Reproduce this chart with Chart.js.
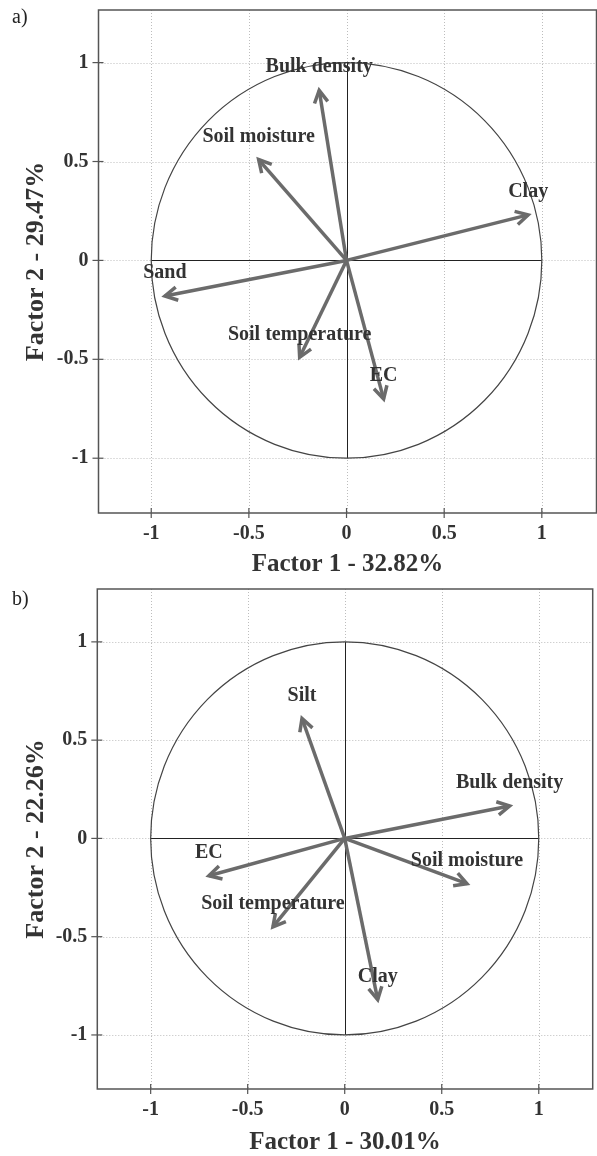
<!DOCTYPE html>
<html>
<head>
<meta charset="utf-8">
<script src="https://cdn.jsdelivr.net/npm/chart.js@4/dist/chart.umd.min.js"></script>
<style>
    html, body { margin: 0; padding: 0; background: #fff; }
    .panel { position: relative; width: 597px; height: 578px; }
</style>
</head>
<body>
<div class="panel"><canvas id="panelA"></canvas></div>
<div class="panel"><canvas id="panelB"></canvas></div>
<script>
// axis ticks shared by both panels
const tickValues = [-1, -0.5, 0, 0.5, 1];
const tickLabels = ['-1', '-0.5', '0', '0.5', '1'];

// panel a) loadings
const variablesA = ['Bulk density', 'Soil moisture', 'Clay', 'Sand', 'Soil temperature', 'EC'];
const factor1A = [-0.14, -0.45, 0.93, -0.93, -0.24, 0.19];
const factor2A = [0.86, 0.51, 0.23, -0.18, -0.49, -0.70];

// panel b) loadings
const variablesB = ['Silt', 'Bulk density', 'EC', 'Soil moisture', 'Soil temperature', 'Clay'];
const factor1B = [-0.22, 0.85, -0.70, 0.63, -0.37, 0.17];
const factor2B = [0.61, 0.165, -0.19, -0.23, -0.45, -0.82];

const SERIF = '"Liberation Serif", "Times New Roman", serif';
const INK = '#333333';
const ARROW = '#6b6b6b';

const strokeLine = (ctx, x1, y1, x2, y2) => {
    ctx.beginPath();
    ctx.moveTo(x1, y1);
    ctx.lineTo(x2, y2);
    ctx.stroke();
};

const pcaDecor = {
    id: 'pcaDecor',
    beforeDatasetsDraw(chart) {
        const { ctx, chartArea: area, scales: { x, y } } = chart;
        ctx.save();

        // dotted grid
        ctx.strokeStyle = '#bdbdbd';
        ctx.lineWidth = 1;
        ctx.setLineDash([1, 2]);
        tickValues.forEach((v) => {
            const px = Math.round(x.getPixelForValue(v)) + 0.5;
            const py = Math.round(y.getPixelForValue(v)) + 0.5;
            strokeLine(ctx, px, area.top, px, area.bottom);
            strokeLine(ctx, area.left, py, area.right, py);
        });
        ctx.setLineDash([]);

        // axes through the origin, only inside the unit circle
        const cx = x.getPixelForValue(0);
        const cy = y.getPixelForValue(0);
        ctx.strokeStyle = '#222';
        ctx.lineWidth = 1;
        strokeLine(ctx, x.getPixelForValue(-1), Math.round(cy) + 0.5, x.getPixelForValue(1), Math.round(cy) + 0.5);
        strokeLine(ctx, Math.round(cx) + 0.5, y.getPixelForValue(1), Math.round(cx) + 0.5, y.getPixelForValue(-1));

        // correlation circle
        const rx = x.getPixelForValue(1) - cx;
        const ry = cy - y.getPixelForValue(1);
        ctx.strokeStyle = '#444';
        ctx.lineWidth = 1.2;
        ctx.beginPath();
        ctx.ellipse(cx, cy, rx, ry, 0, 0, Math.PI * 2);
        ctx.stroke();

        ctx.restore();
    },
    afterDatasetsDraw(chart, args, opts) {
        const { ctx, chartArea: area, scales: { x, y } } = chart;
        ctx.save();

        // arrow heads and variable names
        chart.data.datasets.forEach((ds, i) => {
            const pts = chart.getDatasetMeta(i).data;
            const p0 = pts[0];
            const p1 = pts[pts.length - 1];
            const ang = Math.atan2(p1.y - p0.y, p1.x - p0.x);
            const len = 14;
            const spread = 0.5;
            ctx.strokeStyle = ARROW;
            ctx.lineWidth = 3.5;
            ctx.lineJoin = 'miter';
            ctx.lineCap = 'butt';
            ctx.beginPath();
            ctx.moveTo(p1.x - len * Math.cos(ang - spread), p1.y - len * Math.sin(ang - spread));
            ctx.lineTo(p1.x, p1.y);
            ctx.lineTo(p1.x - len * Math.cos(ang + spread), p1.y - len * Math.sin(ang + spread));
            ctx.stroke();

            ctx.fillStyle = INK;
            ctx.font = `bold 20px ${SERIF}`;
            ctx.textAlign = 'center';
            ctx.textBaseline = 'middle';
            ctx.fillText(ds.label, p1.x, p1.y - opts.labelLift);
        });

        // frame and tick marks
        ctx.strokeStyle = '#555';
        ctx.lineWidth = 1.5;
        ctx.strokeRect(area.left, area.top, area.right - area.left, area.bottom - area.top);
        ctx.lineWidth = 1.2;
        tickValues.forEach((v) => {
            const px = x.getPixelForValue(v);
            const py = y.getPixelForValue(v);
            strokeLine(ctx, px, area.bottom - 5, px, area.bottom + 5);
            strokeLine(ctx, area.left - 6, py, area.left + 5, py);
        });

        // panel letter
        ctx.fillStyle = '#222';
        ctx.font = `20px ${SERIF}`;
        ctx.textAlign = 'left';
        ctx.textBaseline = 'alphabetic';
        ctx.fillText(opts.letter, 12, opts.letterY);

        ctx.restore();
    },
};

const buildDatasets = (names, f1, f2) => names.map((name, i) => ({
    label: name,
    data: [{ x: 0, y: 0 }, { x: f1[i], y: f2[i] }],
    showLine: true,
    borderColor: ARROW,
    borderWidth: 3.5,
    borderCapStyle: 'butt',
    pointRadius: 0,
    pointHoverRadius: 0,
}));

const axisOptions = (range, title, titleSize, isX, fit) => ({
    type: 'linear',
    min: range[0],
    max: range[1],
    afterBuildTicks: (scale) => {
        scale.ticks = tickValues.map((v) => ({ value: v }));
    },
    afterFit: (scale) => {
        if (isX) {
            scale.height = fit;
        } else {
            scale.width = fit;
        }
        // the outer ticks sit well inside the range, no extra room needed
        scale.paddingTop = 0;
        scale.paddingBottom = 0;
        scale.paddingLeft = 0;
        scale.paddingRight = 0;
    },
    grid: { display: false, drawTicks: false },
    border: { display: false },
    ticks: {
        padding: isX ? 9 : 10,
        color: INK,
        font: { family: SERIF, size: 20, weight: 'bold' },
        callback: (value, index) => tickLabels[index],
    },
    title: {
        display: true,
        text: title,
        color: INK,
        font: { family: SERIF, size: titleSize, weight: 'bold', lineHeight: 1 },
        padding: isX ? { top: 0, bottom: 1 } : { top: 23, bottom: 0 },
    },
});

const createPanel = (canvasId, names, f1, f2, cfg) => new Chart(document.getElementById(canvasId), {
    type: 'scatter',
    data: { datasets: buildDatasets(names, f1, f2) },
    options: {
        responsive: true,
        maintainAspectRatio: false,
        animation: false,
        layout: { padding: { top: cfg.top, right: cfg.right, left: 0, bottom: 0 } },
        scales: {
            x: axisOptions(cfg.xRange, cfg.xTitle, 25, true, cfg.xHeight),
            y: axisOptions(cfg.yRange, cfg.yTitle, 26, false, cfg.yWidth),
        },
        plugins: {
            legend: { display: false },
            tooltip: { enabled: false },
            pcaDecor: { labelLift: 23, letter: cfg.letter, letterY: cfg.letterY },
        },
    },
    plugins: [pcaDecor],
});

createPanel('panelA', variablesA, factor1A, factor2A, {
    letter: 'a)',
    letterY: 23,
    top: 10,
    right: 0.5,
    xHeight: 65,
    yWidth: 98.5,
    xRange: [-1.27, 1.28],
    yRange: [-1.277, 1.266],
    xTitle: 'Factor 1 - 32.82%',
    yTitle: 'Factor 2 - 29.47%',
});

createPanel('panelB', variablesB, factor1B, factor2B, {
    letter: 'b)',
    letterY: 27,
    top: 11,
    right: 4.3,
    xHeight: 67,
    yWidth: 97.3,
    xRange: [-1.275, 1.278],
    yRange: [-1.275, 1.269],
    xTitle: 'Factor 1 - 30.01%',
    yTitle: 'Factor 2 - 22.26%',
});
</script>
</body>
</html>
